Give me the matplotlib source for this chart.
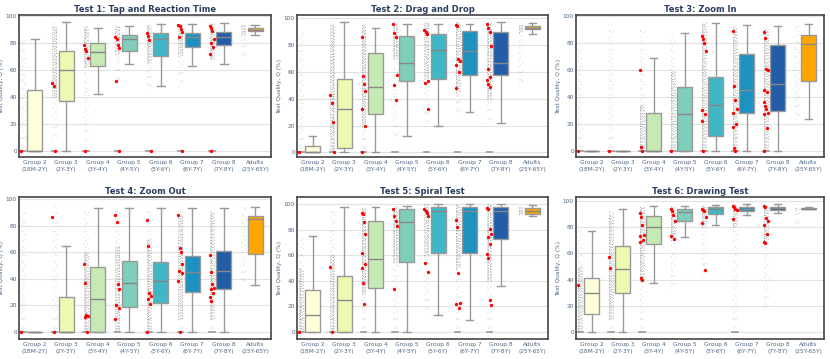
import matplotlib
matplotlib.use("Agg")
import matplotlib.pyplot as plt

groups = ["Group 2\n(18M-2Y)", "Group 3\n(2Y-3Y)", "Group 4\n(3Y-4Y)", "Group 5\n(4Y-5Y)",
          "Group 6\n(5Y-6Y)", "Group 7\n(6Y-7Y)", "Group 8\n(7Y-8Y)", "Adults\n(25Y-65Y)"]
box_colors = ["#ffffd9", "#edf8b1", "#c7e9b4", "#7fcdbb", "#41b6c4", "#1d91c0", "#225ea8", "#ffa500"]
titles = ["Test 1: Tap and Reaction Time", "Test 2: Drag and Drop", "Test 3: Zoom In",
          "Test 4: Zoom Out", "Test 5: Spiral Test", "Test 6: Drawing Test"]

# box stats per group: (whisker low, q1, median, q3, whisker high)
t1_box = [(0, 0, 0, 45, 83), (0, 37, 60, 74, 95), (42, 63, 73, 80, 91), (64, 74, 82.5, 86, 92),
          (48, 70.5, 82.5, 87, 94), (62.5, 77, 84.5, 87.5, 94), (64, 78.5, 84.5, 88, 94.5), (86, 88.7, 89.6, 90.8, 93)]
t2_box = [(0, 0, 0, 5, 12), (0, 3, 32, 55, 97), (0, 28.5, 49, 74.5, 93), (12, 53, 67, 86.5, 95.5),
          (20, 54.5, 76.5, 88, 95.5), (30, 57.5, 75.5, 90.5, 96), (22, 57.5, 67, 89.5, 97), (88, 91.7, 93, 94, 96.5)]
t3_box = [(0, 0, 0, 0, 0), (0, 0, 0, 0, 0), (0, 0, 0, 28, 68.5), (0, 0, 27, 47.5, 87),
          (0, 11, 34, 55, 95), (0, 28, 45.5, 72, 93), (0, 29.5, 49.5, 78.5, 92.5), (24, 51.5, 79, 86, 94)]
t4_box = [(0, 0, 0, 0, 0), (0, 0, 0, 26, 65), (0, 0, 25, 49, 93), (0, 19, 37, 53.5, 93),
          (0, 21.5, 38, 52.5, 93), (0, 30, 45, 57.5, 93), (0, 32.5, 46, 61, 93), (35.5, 58.5, 85, 87.5, 94)]
t5_box = [(0, 0, 13.5, 33, 75.5), (0, 0, 25, 43.5, 97.5), (0, 34.5, 57, 87, 97.5), (0, 55, 86, 96, 98.5),
          (13.5, 62, 94.5, 97.5, 100), (9, 62, 94.5, 97.5, 100), (36, 73, 95, 98, 100), (90.5, 92.5, 94.8, 97, 99.5)]
t6_box = [(0, 14, 30, 41, 77), (0, 30, 48, 65.5, 94), (37.5, 67, 80, 88.5, 96), (72.5, 85, 91.5, 93.8, 96),
          (82, 89.8, 93.8, 95, 97), (89, 92.6, 94.2, 95.3, 97.8), (91, 93.4, 94.4, 95.2, 97.8), (93.5, 93.8, 94.2, 94.6, 95)]

# gray point clouds per group: (sparse low, sparse high, dense low, dense high, points at zero)
t1_dots = [(0, 85, None, None, 1), (8, 96, 40, 92, 1), (5, 92, 62, 92, 1), (50, 93, 72, 93, 1),
           (45, 94, 65, 93, 1), (48, 94, 70, 94, 1), (65, 95, 68, 95, 1), (68, 93, 86, 93, 0)]
t2_dots = [(0, 90, None, None, 1), (0, 97, 0, 95, 1), (0, 97, 20, 95, 1), (10, 97, 70, 97, 1),
           (20, 97, 55, 97, 1), (28, 97, 45, 97, 1), (22, 97, 40, 97, 1), (50, 96, 90, 96, 0)]
t3_dots = [(0, 78, None, None, 1), (0, 95, None, None, 1), (0, 90, 0, 35, 1), (0, 88, 0, 60, 1),
           (0, 96, 0, 95, 1), (0, 94, 0, 92, 1), (0, 93, 0, 90, 1), (24, 94, None, None, 0)]
t4_dots = [(0, 90, None, None, 1), (0, 96, None, None, 1), (0, 93, 0, 60, 1), (0, 92, 0, 65, 1),
           (0, 92, 0, 70, 1), (0, 92, 10, 88, 1), (0, 92, 10, 90, 1), (35, 94, None, None, 0)]
t5_dots = [(0, 75, 0, 50, 1), (0, 97, 0, 60, 1), (0, 98, 30, 98, 1), (0, 99, 55, 99, 1),
           (15, 100, 60, 100, 0), (0, 100, 50, 100, 1), (0, 100, 40, 100, 1), (90, 99, 92, 98, 0)]
t6_dots = [(0, 78, 0, 50, 1), (0, 94, 10, 90, 1), (0, 96, 40, 96, 1), (33, 96, 70, 96, 0),
           (42, 97, 80, 97, 0), (0, 98, 80, 98, 1), (17, 97, 70, 97, 0), (80, 95, 93, 95, 0)]

# highlighted (red) points per group
t1_red = [[0], [50, 48, 0], [78, 75, 74, 69, 0], [84, 83, 78, 76, 52, 0], [87, 85, 82, 0],
          [93, 92, 90, 88, 84, 0], [92, 91, 89, 83, 80, 77, 72, 0], []]
t2_red = [[0], [43, 37, 23, 0], [86, 57, 51, 46, 32, 20, 0], [96, 89, 86, 58, 50, 39],
          [91, 90, 88, 53, 52, 32], [95, 94, 70, 68, 65, 60, 48], [96, 93, 90, 79, 62, 56, 54, 51, 49], []]
t3_red = [[0], [0], [60, 3, 0], [0], [85, 83, 80, 74, 30, 27, 22, 0],
          [89, 48, 38, 31, 28, 20, 18, 2, 0], [88, 84, 61, 60, 45, 44, 36, 33, 31, 28, 27, 17, 0], []]
t4_red = [[0], [86.5, 0], [51, 37, 13, 12, 11, 0], [88, 83, 36, 32, 20, 18, 10],
          [84, 65, 29, 27, 25, 21, 0], [88, 63, 60, 51, 46, 44, 38, 0], [58, 45, 36, 33, 32, 29, 26, 23], []]
t5_red = [[0], [51, 0], [93, 92, 86, 77, 62, 53, 50, 38, 22], [96, 91, 87, 83, 34],
          [96, 95, 93, 91, 54, 47], [88, 82, 46, 23, 22, 19], [97, 96, 81, 77, 74, 69, 61, 58, 25, 21], []]
t6_red = [[36], [57, 49], [91, 88, 82, 74, 73, 70, 69, 41, 40], [94, 92, 89, 85, 73, 71],
          [94, 93, 92, 88, 83, 47], [96, 95, 94, 93, 86], [96, 95, 87, 85, 82, 75, 69, 68], []]

ylims = [(-4.5, 100.5), (-3.5, 102.5), (-4.5, 100.7), (-5.3, 101.5), (-5.5, 105.7), (-5.3, 103)]

all_box = [t1_box, t2_box, t3_box, t4_box, t5_box, t6_box]
all_dots = [t1_dots, t2_dots, t3_dots, t4_dots, t5_dots, t6_dots]
all_red = [t1_red, t2_red, t3_red, t4_red, t5_red, t6_red]

fig = plt.figure(figsize=(8.3, 3.59), dpi=100)
lefts = [19 / 830, 297 / 830, 576 / 830]
widths = [252 / 830, 251 / 830, 248 / 830]
bottoms = [1 - 157 / 359, 1 - 339 / 359]
h = 142 / 359

text_col = "#506784"
jit = [-0.44, -0.40, -0.36, -0.32, -0.42, -0.34]

for k in range(6):
    ax = fig.add_axes([lefts[k % 3], bottoms[k // 3], widths[k % 3], h])
    box, dots, red = all_box[k], all_dots[k], all_red[k]
    for i in range(len(groups)):
        slo, shi, dlo, dhi, zero = dots[i]
        for j, dx in enumerate(jit):
            ax.plot([i + dx, i + dx], [slo, shi], color="#888888", lw=0.6, alpha=0.55,
                    linestyle=(j * 1.7, (0.6, 7 + j)), zorder=2)
            if dlo is not None:
                ax.plot([i + dx, i + dx], [dlo, dhi], color="#707070", lw=0.65, alpha=0.75,
                        linestyle=(j * 0.9, (0.6, 1.7 + 0.3 * j)), zorder=2)
        if zero:
            ax.plot([i - 0.46, i - 0.29], [0, 0], color="#999999", lw=1.2, zorder=2)
        for j, v in enumerate(red[i]):
            ax.plot(i + jit[j % len(jit)], v, "o", color="#ff0000", ms=2.4, mew=0, zorder=4)

    stats = [dict(whislo=b[0], q1=b[1], med=b[2], q3=b[3], whishi=b[4], fliers=[]) for b in box]
    bp = ax.bxp(stats, positions=range(len(groups)), widths=0.48, patch_artist=True,
                showfliers=False, manage_ticks=False,
                boxprops=dict(edgecolor="#999999", linewidth=1),
                medianprops=dict(color="#888888", linewidth=1),
                whiskerprops=dict(color="#999999", linewidth=1),
                capprops=dict(color="#999999", linewidth=1), capwidths=0.24)
    for patch, c in zip(bp["boxes"], box_colors):
        patch.set_facecolor(c)
        patch.set_zorder(3)
    for key in ("medians", "whiskers", "caps"):
        for ln in bp[key]:
            ln.set_zorder(3)

    ax.set_xlim(-0.5, len(groups) - 0.5)
    ax.set_ylim(*ylims[k])
    ax.set_yticks([0, 20, 40, 60, 80, 100])
    ax.set_xticks(range(len(groups)))
    ax.set_xticklabels(groups, fontsize=4.2, color=text_col, linespacing=1.5)
    ax.tick_params(axis="y", labelsize=4.2, colors=text_col, length=0, pad=1.5)
    ax.tick_params(axis="x", length=0, pad=2.5, colors=text_col)
    ax.grid(axis="y", color="#e2e2e2", linewidth=0.8, zorder=0)
    ax.set_axisbelow(True)
    for sp in ax.spines.values():
        sp.set_color("#444444")
        sp.set_linewidth(1.2)
    ax.set_title(titles[k], fontsize=6, fontweight="bold", color="#2a3f5f", pad=2)
    ax.set_ylabel("Test Quality, Q (%)", fontsize=4.2, color=text_col, labelpad=1.5)

plt.savefig("out.png", dpi=100)
